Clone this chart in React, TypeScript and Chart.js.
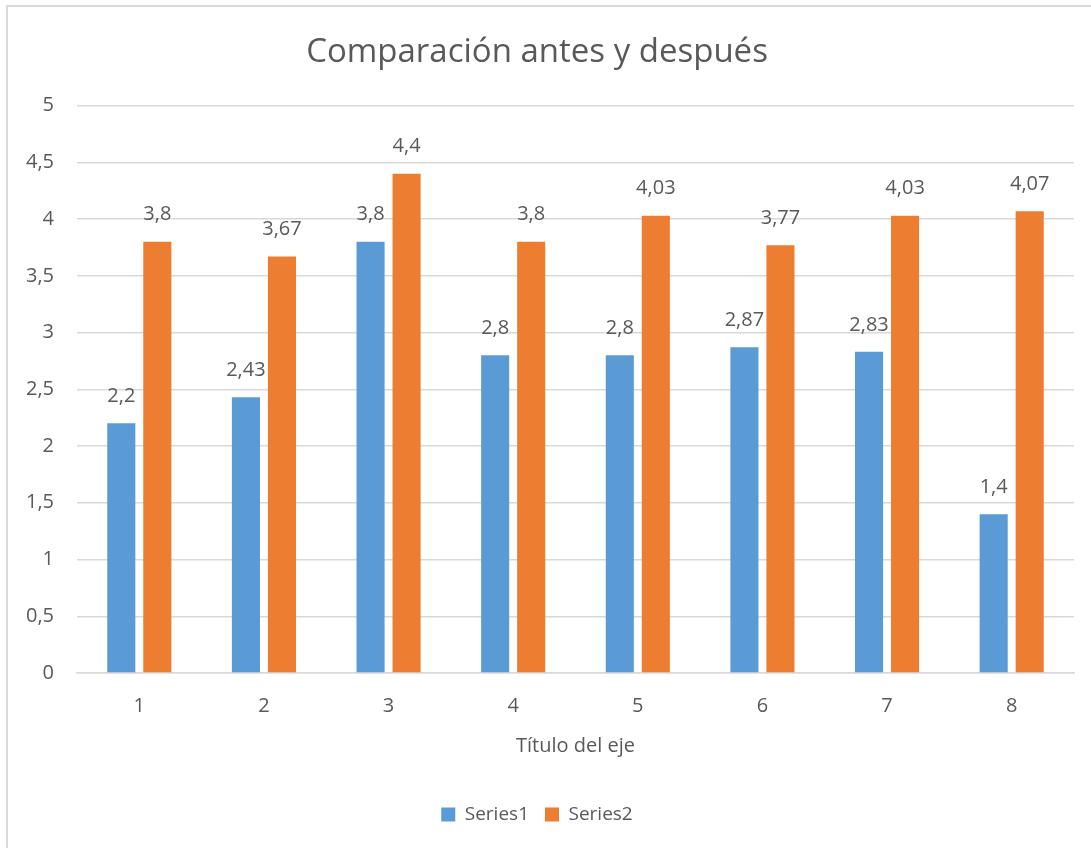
import React, { useEffect, useRef } from "react";
import { Chart, registerables } from "chart.js";

Chart.register(...registerables);

const categories = ["1", "2", "3", "4", "5", "6", "7", "8"];
const seriesNames = ["Series1", "Series2"];
const series1 = [2.2, 2.43, 3.8, 2.8, 2.8, 2.87, 2.83, 1.4];
const series2 = [3.8, 3.67, 4.4, 3.8, 4.03, 3.77, 4.03, 4.07];
const titleText = "Comparación antes y después";
const xAxisTitle = "Título del eje";
const yMin = 0;
const yMax = 5;
const yStep = 0.5;

const FONT = "'Open Sans', sans-serif";
const TEXT = "#595959";
const GRID = "#d9d9d9";

const fmt = (v: number) => String(v).replace(".", ",");

const dataLabels = {
  id: "dataLabels",
  afterDatasetsDraw(chart: any) {
    const ctx = chart.ctx;
    ctx.save();
    ctx.font = `20px ${FONT}`;
    ctx.fillStyle = TEXT;
    ctx.textAlign = "center";
    ctx.textBaseline = "middle";
    chart.data.datasets.forEach((ds: any, i: number) => {
      const meta = chart.getDatasetMeta(i);
      meta.data.forEach((el: any, j: number) => {
        ctx.fillText(fmt(ds.data[j]), el.x, el.y - 27);
      });
    });
    ctx.restore();
  },
};

export default function App() {
  const ref = useRef<HTMLCanvasElement | null>(null);

  useEffect(() => {
    if (!ref.current) return;
    const chart = new Chart(ref.current, {
      type: "bar",
      data: {
        labels: categories,
        datasets: [
          {
            label: seriesNames[0],
            data: series1,
            backgroundColor: "#5B9BD5",
            categoryPercentage: 0.578,
            barPercentage: 0.78,
          },
          {
            label: seriesNames[1],
            data: series2,
            backgroundColor: "#ED7D31",
            categoryPercentage: 0.578,
            barPercentage: 0.78,
          },
        ],
      },
      options: {
        animation: false,
        responsive: false,
        maintainAspectRatio: false,
        layout: { padding: { left: 0, right: 17, top: 0, bottom: 14 } },
        plugins: {
          title: {
            display: true,
            text: titleText,
            color: TEXT,
            font: { family: FONT, size: 33, weight: "normal", lineHeight: 1.2 },
            padding: { top: 33, bottom: 33 },
          },
          legend: {
            position: "bottom",
            labels: {
              color: TEXT,
              font: { family: FONT, size: 19 },
              boxWidth: 14,
              boxHeight: 14,
              padding: 16,
            },
          },
          tooltip: { enabled: false },
        },
        scales: {
          x: {
            grid: { display: false, drawTicks: false },
            border: { display: true, color: GRID, width: 1.5 },
            ticks: { color: TEXT, font: { family: FONT, size: 20 }, padding: 21 },
            title: {
              display: true,
              text: xAxisTitle,
              color: TEXT,
              font: { family: FONT, size: 20 },
              padding: { top: 0, bottom: 31 },
            },
            afterFit(scale: any) {
              scale.height = 116;
            },
          },
          y: {
            min: yMin,
            max: yMax,
            grid: { color: GRID, lineWidth: 1.5, drawTicks: false },
            border: { display: false },
            ticks: {
              stepSize: yStep,
              color: TEXT,
              font: { family: FONT, size: 20 },
              padding: 23,
              callback: (v: any) => fmt(Number(v)),
            },
            afterFit(scale: any) {
              scale.width = 77;
            },
          },
        },
      },
      plugins: [dataLabels],
    });
    return () => chart.destroy();
  }, []);

  return (
    <div
      style={{
        position: "fixed",
        left: 0,
        top: 0,
        width: 1091,
        height: 848,
        overflow: "hidden",
        background: "#fff",
      }}
    >
      <div
        style={{
          position: "absolute",
          left: 6,
          top: 5,
          width: 1200,
          height: 1000,
          border: `2px solid ${GRID}`,
          boxSizing: "border-box",
        }}
      />
      <canvas
        ref={ref}
        width={1091}
        height={848}
        style={{ position: "absolute", left: 0, top: 0, width: 1091, height: 848 }}
      />
    </div>
  );
}
